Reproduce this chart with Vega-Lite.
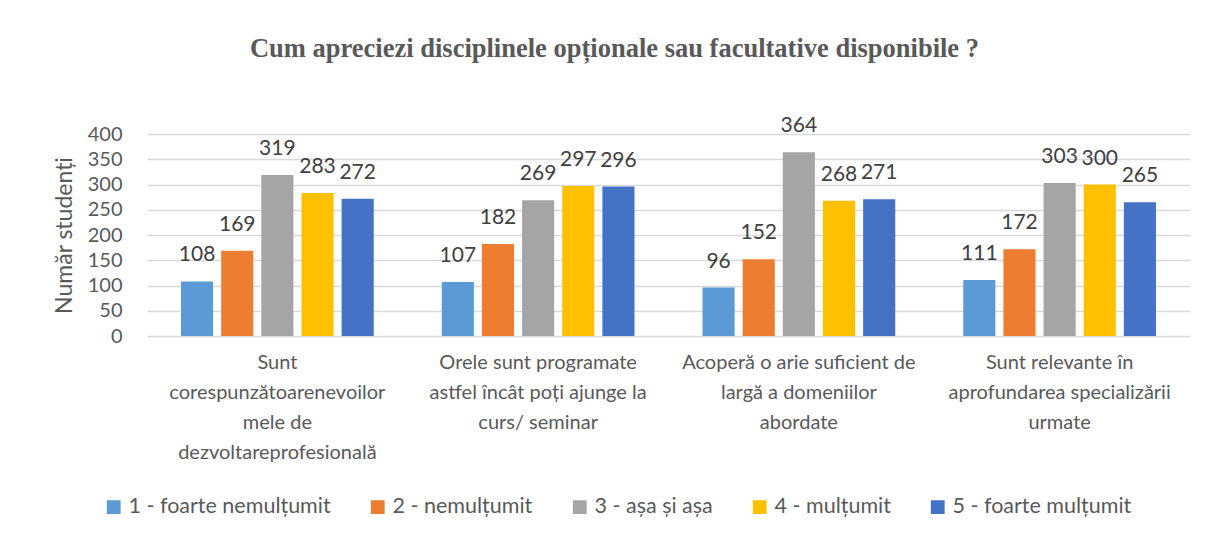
{
  "$schema": "https://vega.github.io/schema/vega-lite/v6.json",
  "autosize": {"type": "none"},
  "width": 1043,
  "height": 202,
  "padding": {"left": 147, "top": 134, "right": 19, "bottom": 203},
  "background": "white",
  "title": {
    "text": "Cum apreciezi disciplinele opționale sau facultative disponibile ?",
    "font": "Liberation Serif",
    "fontSize": 26.5,
    "fontWeight": "bold",
    "color": "#595959",
    "anchor": "middle",
    "dx": -54,
    "offset": 26,
    "baseline": "bottom"
  },
  "data": {
    "values": [
      {"cat": "Sunt|corespunzătoarenevoilor|mele de|dezvoltareprofesională", "rating": "1 - foarte nemulțumit", "value": 108},
      {"cat": "Sunt|corespunzătoarenevoilor|mele de|dezvoltareprofesională", "rating": "2 - nemulțumit", "value": 169},
      {"cat": "Sunt|corespunzătoarenevoilor|mele de|dezvoltareprofesională", "rating": "3 - așa și așa", "value": 319},
      {"cat": "Sunt|corespunzătoarenevoilor|mele de|dezvoltareprofesională", "rating": "4 - mulțumit", "value": 283},
      {"cat": "Sunt|corespunzătoarenevoilor|mele de|dezvoltareprofesională", "rating": "5 - foarte mulțumit", "value": 272},
      {"cat": "Orele sunt programate|astfel încât poți ajunge la|curs/ seminar", "rating": "1 - foarte nemulțumit", "value": 107},
      {"cat": "Orele sunt programate|astfel încât poți ajunge la|curs/ seminar", "rating": "2 - nemulțumit", "value": 182},
      {"cat": "Orele sunt programate|astfel încât poți ajunge la|curs/ seminar", "rating": "3 - așa și așa", "value": 269},
      {"cat": "Orele sunt programate|astfel încât poți ajunge la|curs/ seminar", "rating": "4 - mulțumit", "value": 297},
      {"cat": "Orele sunt programate|astfel încât poți ajunge la|curs/ seminar", "rating": "5 - foarte mulțumit", "value": 296},
      {"cat": "Acoperă o arie suficient de|largă a domeniilor|abordate", "rating": "1 - foarte nemulțumit", "value": 96},
      {"cat": "Acoperă o arie suficient de|largă a domeniilor|abordate", "rating": "2 - nemulțumit", "value": 152},
      {"cat": "Acoperă o arie suficient de|largă a domeniilor|abordate", "rating": "3 - așa și așa", "value": 364},
      {"cat": "Acoperă o arie suficient de|largă a domeniilor|abordate", "rating": "4 - mulțumit", "value": 268},
      {"cat": "Acoperă o arie suficient de|largă a domeniilor|abordate", "rating": "5 - foarte mulțumit", "value": 271},
      {"cat": "Sunt relevante în|aprofundarea specializării|urmate", "rating": "1 - foarte nemulțumit", "value": 111},
      {"cat": "Sunt relevante în|aprofundarea specializării|urmate", "rating": "2 - nemulțumit", "value": 172},
      {"cat": "Sunt relevante în|aprofundarea specializării|urmate", "rating": "3 - așa și așa", "value": 303},
      {"cat": "Sunt relevante în|aprofundarea specializării|urmate", "rating": "4 - mulțumit", "value": 300},
      {"cat": "Sunt relevante în|aprofundarea specializării|urmate", "rating": "5 - foarte mulțumit", "value": 265}
    ]
  },
  "encoding": {
    "x": {
      "field": "cat", "type": "nominal", "sort": null,
      "scale": {"paddingInner": 0.23, "paddingOuter": 0.115},
      "axis": {
        "title": null, "labelAngle": 0, "domain": false, "ticks": false,
        "labelExpr": "split(datum.label, '|')",
        "labelFont": "Lato", "labelFontSize": 20, "labelColor": "#595959",
        "labelLineHeight": 30, "labelPadding": 16, "labelBaseline": "top", "labelLimit": 300
      }
    },
    "xOffset": {"field": "rating", "type": "nominal", "sort": null, "scale": {"paddingInner": 0.2, "paddingOuter": 0.1}},
    "y": {
      "field": "value", "type": "quantitative",
      "scale": {"domain": [0, 400], "nice": false},
      "axis": {
        "title": "Număr studenți", "values": [0, 50, 100, 150, 200, 250, 300, 350, 400],
        "domain": false, "ticks": false, "gridColor": "#d9d9d9", "gridWidth": 1.3,
        "labelFont": "Lato", "labelFontSize": 20, "labelColor": "#595959", "labelPadding": 25,
        "titleFont": "Lato", "titleFontSize": 23, "titleFontWeight": "normal", "titleColor": "#595959", "titlePadding": 11
      }
    }
  },
  "layer": [
    {
      "mark": {"type": "bar"},
      "encoding": {
        "color": {
          "field": "rating", "type": "nominal", "sort": null,
          "scale": {"range": ["#5B9BD5", "#ED7D31", "#A5A5A5", "#FFC000", "#4472C4"]},
          "legend": {
            "title": null, "orient": "none", "direction": "horizontal",
            "legendX": -44, "legendY": 362,
            "symbolType": "square", "symbolSize": 190, "symbolStrokeWidth": 0,
            "labelFont": "Lato", "labelFontSize": 21.5, "labelColor": "#595959",
            "columnPadding": 36, "labelOffset": 4, "labelLimit": 400
          }
        }
      }
    },
    {
      "mark": {"type": "text", "baseline": "bottom", "dy": -16, "font": "Lato", "fontSize": 21, "color": "#404040"},
      "encoding": {"text": {"field": "value", "type": "quantitative"}}
    }
  ],
  "config": {"view": {"stroke": null}}
}
